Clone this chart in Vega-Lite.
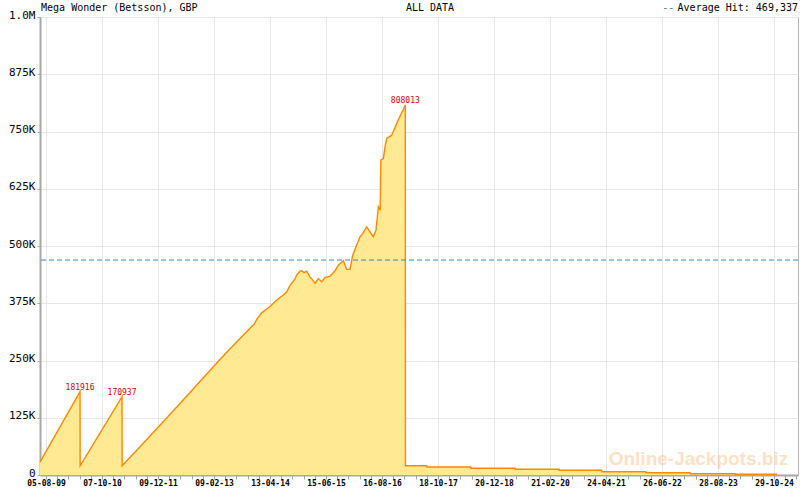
{
  "$schema": "https://vega.github.io/schema/vega-lite/v6.json",
  "width": 758,
  "height": 458,
  "autosize": {"type": "none"},
  "padding": {"left": 40, "top": 17, "right": 2, "bottom": 15},
  "background": "white",
  "config": {"view": {"stroke": "#b4b4b4", "strokeWidth": 1}, "font": "DejaVu Sans Mono"},
  "datasets": {
    "jackpot": [
      {"date": "2009-06-20", "value": 28000},
      {"date": "2010-04-22", "value": 181916},
      {"date": "2010-04-23", "value": 20000},
      {"date": "2011-03-09", "value": 170937},
      {"date": "2011-03-10", "value": 20000},
      {"date": "2011-10-09", "value": 85000},
      {"date": "2012-05-25", "value": 156000},
      {"date": "2012-11-09", "value": 209000},
      {"date": "2013-05-04", "value": 264000},
      {"date": "2013-08-27", "value": 298000},
      {"date": "2013-11-04", "value": 318000},
      {"date": "2013-11-24", "value": 324000},
      {"date": "2013-12-12", "value": 329000},
      {"date": "2014-01-06", "value": 342000},
      {"date": "2014-02-08", "value": 354000},
      {"date": "2014-04-13", "value": 368000},
      {"date": "2014-06-03", "value": 382000},
      {"date": "2014-07-24", "value": 393000},
      {"date": "2014-08-19", "value": 400000},
      {"date": "2014-09-13", "value": 414000},
      {"date": "2014-10-21", "value": 428000},
      {"date": "2014-11-03", "value": 437000},
      {"date": "2014-11-28", "value": 445000},
      {"date": "2014-12-11", "value": 446000},
      {"date": "2014-12-29", "value": 442000},
      {"date": "2015-01-18", "value": 445000},
      {"date": "2015-02-13", "value": 432000},
      {"date": "2015-03-04", "value": 426000},
      {"date": "2015-03-23", "value": 418000},
      {"date": "2015-04-17", "value": 429000},
      {"date": "2015-05-13", "value": 422000},
      {"date": "2015-06-07", "value": 431000},
      {"date": "2015-07-16", "value": 434000},
      {"date": "2015-08-23", "value": 446000},
      {"date": "2015-09-17", "value": 458000},
      {"date": "2015-10-25", "value": 468000},
      {"date": "2015-11-20", "value": 449000},
      {"date": "2015-12-15", "value": 449000},
      {"date": "2016-01-05", "value": 480000},
      {"date": "2016-02-04", "value": 502000},
      {"date": "2016-03-01", "value": 520000},
      {"date": "2016-03-21", "value": 527000},
      {"date": "2016-04-21", "value": 542000},
      {"date": "2016-05-16", "value": 531000},
      {"date": "2016-06-10", "value": 520000},
      {"date": "2016-07-01", "value": 535000},
      {"date": "2016-07-19", "value": 586000},
      {"date": "2016-08-02", "value": 578000},
      {"date": "2016-08-07", "value": 688000},
      {"date": "2016-08-26", "value": 691000},
      {"date": "2016-09-08", "value": 717000},
      {"date": "2016-09-21", "value": 735000},
      {"date": "2016-10-29", "value": 742000},
      {"date": "2016-12-18", "value": 775000},
      {"date": "2017-02-10", "value": 808013},
      {"date": "2017-02-11", "value": 20300},
      {"date": "2017-07-24", "value": 20300},
      {"date": "2017-07-25", "value": 17500},
      {"date": "2018-06-25", "value": 17500},
      {"date": "2018-06-26", "value": 14600},
      {"date": "2019-05-29", "value": 14600},
      {"date": "2019-05-30", "value": 12400},
      {"date": "2020-04-30", "value": 12400},
      {"date": "2020-05-01", "value": 10300},
      {"date": "2021-03-22", "value": 10300},
      {"date": "2021-03-23", "value": 7200},
      {"date": "2022-02-21", "value": 7200},
      {"date": "2022-02-22", "value": 5000},
      {"date": "2023-01-26", "value": 5000},
      {"date": "2023-01-27", "value": 2800},
      {"date": "2024-01-05", "value": 2800},
      {"date": "2024-01-06", "value": 1500},
      {"date": "2024-11-21", "value": 1500}
    ],
    "peaks": [
      {"date": "2010-04-22", "value": 181916, "label": "181916"},
      {"date": "2011-03-09", "value": 170937, "label": "170937"},
      {"date": "2017-02-10", "value": 808013, "label": "808013"}
    ],
    "one": [{}]
  },
  "layer": [
    {
      "data": {"name": "one"},
      "mark": {"type": "text", "text": "Online-Jackpots.biz", "font": "Liberation Sans", "fontWeight": "bold", "fontSize": 19, "color": "#f9b36b", "opacity": 0.38, "align": "center", "baseline": "alphabetic"},
      "encoding": {
        "x": {"datum": {"year": 2023, "month": 3, "date": 31, "utc": true}, "type": "temporal"},
        "y": {"datum": 22000, "type": "quantitative"}
      }
    },
    {
      "data": {"name": "jackpot"},
      "mark": {"type": "area", "color": "#ffe993", "opacity": 1, "interpolate": "linear", "line": {"color": "#ff8800", "strokeWidth": 1.4}},
      "encoding": {
        "x": {
          "field": "date", "type": "temporal",
          "scale": {"domain": [{"year": 2009, "month": 6, "date": 20, "utc": true}, {"year": 2025, "month": 4, "date": 30, "utc": true}], "nice": false},
          "axis": {
            "title": null,
            "tickCount": 200,
            "values": [1249430400000, 1256826240000, 1264222080000, 1271617920000, 1279013760000, 1286409600000, 1293805440000, 1301201280000, 1308597120000, 1315992960000, 1323388800000, 1330784640000, 1338180480000, 1345576320000, 1352972160000, 1360368000000, 1367763840000, 1375159680000, 1382555520000, 1389951360000, 1397347200000, 1404743040000, 1412138880000, 1419534720000, 1426930560000, 1434326400000, 1441722240000, 1449118080000, 1456513920000, 1463909760000, 1471305600000, 1478701440000, 1486097280000, 1493493120000, 1500888960000, 1508284800000, 1515680640000, 1523076480000, 1530472320000, 1537868160000, 1545264000000, 1552659840000, 1560055680000, 1567451520000, 1574847360000, 1582243200000, 1589639040000, 1597034880000, 1604430720000, 1611826560000, 1619222400000, 1626618240000, 1634014080000, 1641409920000, 1648805760000, 1656201600000, 1663597440000, 1670993280000, 1678389120000, 1685784960000, 1693180800000, 1700576640000, 1707972480000, 1715368320000, 1722764160000, 1730160000000, 1737555840000, 1744951680000],
            "labelExpr": "round((datum.value - 1249430400000) / 7395840000) % 5 == 0 ? utcFormat(datum.value, '%d-%m-%y') : ''",
            "labelOverlap": false,
            "labelFlush": false,
            "labelFont": "DejaVu Sans Mono",
            "labelFontSize": 8,
            "labelFontWeight": "bold",
            "labelColor": "#000000",
            "labelPadding": 0,
            "labelDx": 2,
            "grid": true,
            "gridColor": "#e6e6e6",
            "gridOpacity": {"condition": {"test": "round((datum.value - 1249430400000) / 7395840000) % 5 == 0", "value": 1}, "value": 0},
            "domainColor": "#a8a8a8",
            "domainWidth": 2,
            "tickColor": "#a0a0a0",
            "tickSize": 4
          }
        },
        "y": {
          "field": "value", "type": "quantitative",
          "scale": {"domain": [0, 1000000], "nice": false},
          "axis": {
            "title": null,
            "tickCount": 20,
            "values": [0, 125000, 250000, 375000, 500000, 625000, 750000, 875000, 1000000],
            "labelExpr": "datum.value == 0 ? '0' : datum.value >= 1000000 ? '1.0M' : (datum.value / 1000) + 'K'",
            "labelFont": "DejaVu Sans Mono",
            "labelFontSize": 11,
            "labelColor": "#000000",
            "labelPadding": 2,
            "labelOffset": -2,
            "grid": true,
            "gridColor": "#e6e6e6",
            "domainColor": "#a8a8a8",
            "domainWidth": 2,
            "tickColor": "#a8a8a8",
            "tickSize": 3
          }
        }
      }
    },
    {
      "data": {"name": "one"},
      "mark": {"type": "rule", "color": "#3a86b8", "strokeDash": [5, 3], "strokeWidth": 1},
      "encoding": {"y": {"datum": 469337, "type": "quantitative"}}
    },
    {
      "data": {"name": "peaks"},
      "mark": {"type": "text", "font": "DejaVu Sans Mono", "fontSize": 8, "color": "#cc0000", "align": "center", "baseline": "alphabetic", "dy": -2},
      "encoding": {
        "x": {"field": "date", "type": "temporal"},
        "y": {"field": "value", "type": "quantitative"},
        "text": {"field": "label"}
      }
    },
    {
      "data": {"name": "one"},
      "mark": {"type": "text", "text": "Mega Wonder (Betsson), GBP", "font": "DejaVu Sans Mono", "fontSize": 10, "color": "#000000", "align": "left", "baseline": "alphabetic"},
      "encoding": {
        "x": {"datum": {"year": 2009, "month": 6, "date": 28, "utc": true}, "type": "temporal"},
        "y": {"datum": 1013100, "type": "quantitative"}
      }
    },
    {
      "data": {"name": "one"},
      "mark": {"type": "text", "text": "ALL DATA", "font": "DejaVu Sans Mono", "fontSize": 10, "color": "#000000", "align": "center", "baseline": "alphabetic"},
      "encoding": {
        "x": {"datum": {"year": 2017, "month": 8, "date": 18, "utc": true}, "type": "temporal"},
        "y": {"datum": 1013100, "type": "quantitative"}
      }
    },
    {
      "data": {"name": "one"},
      "mark": {"type": "text", "text": "--", "font": "DejaVu Sans Mono", "fontSize": 10, "color": "#3a86b8", "align": "right", "baseline": "alphabetic"},
      "encoding": {
        "x": {"datum": {"year": 2022, "month": 9, "date": 28, "utc": true}, "type": "temporal"},
        "y": {"datum": 1013100, "type": "quantitative"}
      }
    },
    {
      "data": {"name": "one"},
      "mark": {"type": "text", "text": "Average Hit: 469,337", "font": "DejaVu Sans Mono", "fontSize": 10, "color": "#000000", "align": "right", "baseline": "alphabetic"},
      "encoding": {
        "x": {"datum": {"year": 2025, "month": 4, "date": 30, "utc": true}, "type": "temporal"},
        "y": {"datum": 1013100, "type": "quantitative"}
      }
    }
  ]
}
